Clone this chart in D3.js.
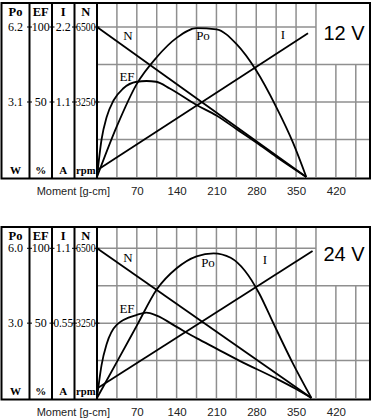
<!DOCTYPE html>
<html>
<head>
<meta charset="utf-8">
<script src="https://cdn.jsdelivr.net/npm/d3@7"></script>
<style>
  body { margin: 0; background: #fff; }
  svg { display: block; }
</style>
</head>
<body>
<script>
// moment axis [g-cm]
const momentTicks = [70, 140, 210, 280, 350, 420];
const momentGrid = [35, 70, 105, 140, 175, 210, 245, 280, 315, 350, 385, 420, 455];

// left scale columns
const columnNames = ["Po", "EF", "I", "N"];
const columnUnits = ["W", "%", "A", "rpm"];

// 12 V motor
const max12 = [6.2, 100, 2.2, 6500];
const topLabels12 = ["6.2", "100", "2.2", "6500"];
const midLabels12 = ["3.1", "50", "1.1", "3250"];
const n12Moment = [0, 368];
const n12Rpm = [6500, 0];
const i12Moment = [0, 371];
const i12Amp = [0.1, 2.11];
const po12Moment = [0, 35, 70, 105, 140, 175, 210, 245, 280, 315, 345, 368];
const po12Watt = [0, 2.1, 3.85, 4.95, 5.75, 6.15, 6.1, 5.5, 4.4, 2.9, 1.4, 0];
const ef12Moment = [0, 8, 17, 29, 46, 70, 87, 104, 128, 175, 210, 245, 280, 315, 350, 368];
const ef12Pct = [0, 25, 40, 51, 59, 63.5, 64, 63.5, 59, 48, 41, 32, 23, 13.5, 4.5, 0];

// 24 V motor
const max24 = [6.0, 100, 1.1, 6500];
const topLabels24 = ["6.0", "100", "1.1", "6500"];
const midLabels24 = ["3.0", "50", "0.55", "3250"];
const n24Moment = [0, 377];
const n24Rpm = [6500, 0];
const i24Moment = [0, 379];
const i24Amp = [0.07, 1.08];
const po24Moment = [0, 35, 70, 105, 140, 175, 205, 235, 260, 285, 310, 343, 377];
const po24Watt = [0, 1.45, 2.9, 4.35, 5.2, 5.68, 5.8, 5.62, 5.1, 4.2, 3.0, 1.45, 0];
const ef24Moment = [0, 8, 17, 35, 70, 87, 105, 140, 175, 210, 250, 315, 350, 377];
const ef24Pct = [0, 22, 36, 49, 55.5, 57, 55, 47.5, 40, 33, 25, 13, 6, 0];

(function() {
  let svgContainer = "";

  // column dividers and centres of the left scale block
  const dividers = [29.5, 52, 74.5, 97];
  const centres = [15.5, 40.75, 63.25, 85.75];

  window.onload = function() {
    svgContainer = d3.select('body')
      .append('svg')
        .attr('width', 378)
        .attr('height', 420);

    drawPanel({
      boxTop: 3, yMax: 27, yZero: 177, boxBottom: 178.5, label: "12 V",
      max: max12, topLabels: topLabels12, midLabels: midLabels12,
      n: [n12Moment, n12Rpm], i: [i12Moment, i12Amp],
      po: [po12Moment, po12Watt], ef: [ef12Moment, ef12Pct],
      marks: [["N", 128, 40], ["Po", 203, 40], ["I", 283, 39], ["EF", 127, 81]]
    });

    drawPanel({
      boxTop: 227, yMax: 248.3, yZero: 398, boxBottom: 399.5, label: "24 V",
      max: max24, topLabels: topLabels24, midLabels: midLabels24,
      n: [n24Moment, n24Rpm], i: [i24Moment, i24Amp],
      po: [po24Moment, po24Watt], ef: [ef24Moment, ef24Pct],
      marks: [["N", 128, 262], ["Po", 208, 267], ["I", 265, 264], ["EF", 127, 313]]
    });
  }

  function drawPanel(p) {
    let g = svgContainer.append('g');

    let xScale = d3.scaleLinear()
      .domain([0, 480])
      .range([97, 370]);

    // one y scale per quantity (Po, EF, I, N)
    let yScales = p.max.map((m) => d3.scaleLinear()
      .domain([0, m])
      .range([p.yZero, p.yMax]));
    let frac = d3.scaleLinear().domain([0, 1]).range([p.yZero, p.yMax]);

    let cellLeft = xScale(385);

    // horizontal grid
    g.selectAll(null)
      .data([1, 0.75, 0.5, 0.25])
      .enter()
      .append('line')
        .attr('x1', 97)
        .attr('x2', (f) => f === 1 ? cellLeft : 370)
        .attr('y1', (f) => frac(f))
        .attr('y2', (f) => frac(f))
        .attr('stroke', '#8f8f8f')
        .attr('stroke-width', 1.5);

    // vertical grid
    g.selectAll(null)
      .data(momentGrid)
      .enter()
      .append('line')
        .attr('x1', (m) => xScale(m))
        .attr('x2', (m) => xScale(m))
        .attr('y1', (m) => m > 385 ? frac(0.75) : p.boxTop)
        .attr('y2', p.yZero)
        .attr('stroke', '#8f8f8f')
        .attr('stroke-width', 1.5);

    // outer box and column dividers
    g.append('rect')
      .attr('x', 1.5)
      .attr('y', p.boxTop)
      .attr('width', 370 - 1.5)
      .attr('height', p.boxBottom - p.boxTop)
      .attr('fill', 'none')
      .attr('stroke', '#000')
      .attr('stroke-width', 2);

    g.selectAll(null)
      .data(dividers)
      .enter()
      .append('line')
        .attr('x1', (d) => d)
        .attr('x2', (d) => d)
        .attr('y1', p.boxTop)
        .attr('y2', p.boxBottom)
        .attr('stroke', '#000')
        .attr('stroke-width', 2);

    // small ticks at full and half scale
    [1, 0.5].forEach((f) => {
      g.selectAll(null)
        .data(dividers)
        .enter()
        .append('line')
          .attr('x1', (d) => d - 2.5)
          .attr('x2', (d) => d + 2.5)
          .attr('y1', frac(f))
          .attr('y2', frac(f))
          .attr('stroke', '#000')
          .attr('stroke-width', 1);
    });

    // column texts
    let serif = '"Liberation Serif", "DejaVu Serif", serif';
    addColumnText(g, columnNames, p.boxTop + 12.5, 12.5, serif, 'bold');
    addColumnText(g, p.topLabels, frac(1) + 4, 12, serif, 'normal');
    addColumnText(g, p.midLabels, frac(0.5) + 4, 12, serif, 'normal');
    addColumnText(g, columnUnits, p.boxBottom - 4.5, 11, serif, 'bold');

    // curves
    let line = (xs, ys, yScale) => d3.line()
      .x((d, k) => xScale(xs[k]))
      .y((d, k) => yScale(ys[k]))
      .curve(d3.curveMonotoneX)(xs);

    let curves = [
      [p.n[0], p.n[1], yScales[3]],
      [p.i[0], p.i[1], yScales[2]],
      [p.po[0], p.po[1], yScales[0]],
      [p.ef[0], p.ef[1], yScales[1]]
    ];
    curves.forEach((c) => {
      g.append('path')
        .attr('d', line(c[0], c[1], c[2]))
        .attr('fill', 'none')
        .attr('stroke', '#000')
        .attr('stroke-width', 1.8)
        .attr('stroke-linejoin', 'round');
    });

    // curve names
    g.selectAll(null)
      .data(p.marks)
      .enter()
      .append('text')
        .attr('x', (d) => d[1])
        .attr('y', (d) => d[2])
        .attr('text-anchor', 'middle')
        .style('font-family', serif)
        .style('font-size', '13px')
        .text((d) => d[0]);

    // voltage label
    g.append('text')
      .attr('x', (cellLeft + 370) / 2 + 1)
      .attr('y', frac(1) + 13)
      .attr('text-anchor', 'middle')
      .style('font-family', '"Liberation Sans", Arial, sans-serif')
      .style('font-size', '20px')
      .text(p.label);

    // moment axis
    let xAxis = d3.axisBottom(xScale)
      .tickValues(momentTicks)
      .tickSize(0)
      .tickPadding(8);
    let ax = g.append('g')
      .attr('transform', 'translate(0,' + p.boxBottom + ')')
      .call(xAxis);
    ax.select('.domain').remove();
    ax.selectAll('text')
      .style('font-family', '"Liberation Sans", Arial, sans-serif')
      .style('font-size', '11.5px')
      .attr('fill', '#222');

    g.append('text')
      .attr('x', 110)
      .attr('y', p.boxBottom + 16)
      .attr('text-anchor', 'end')
      .style('font-family', '"Liberation Sans", Arial, sans-serif')
      .style('font-size', '11px')
      .attr('fill', '#222')
      .text('Moment [g-cm]');
  }

  // one text per column, squeezed if too wide for the column
  function addColumnText(g, labels, y, size, family, weight) {
    g.selectAll(null)
      .data(labels)
      .enter()
      .append('text')
        .attr('x', (d, k) => centres[k])
        .attr('y', y)
        .attr('text-anchor', 'middle')
        .style('font-family', family)
        .style('font-size', size + 'px')
        .style('font-weight', weight)
        .text((d) => d)
        .each(function() {
          if (this.getComputedTextLength() > 19.5) {
            d3.select(this)
              .attr('textLength', 19.5)
              .attr('lengthAdjust', 'spacingAndGlyphs');
          }
        });
  }

})();
</script>
</body>
</html>
